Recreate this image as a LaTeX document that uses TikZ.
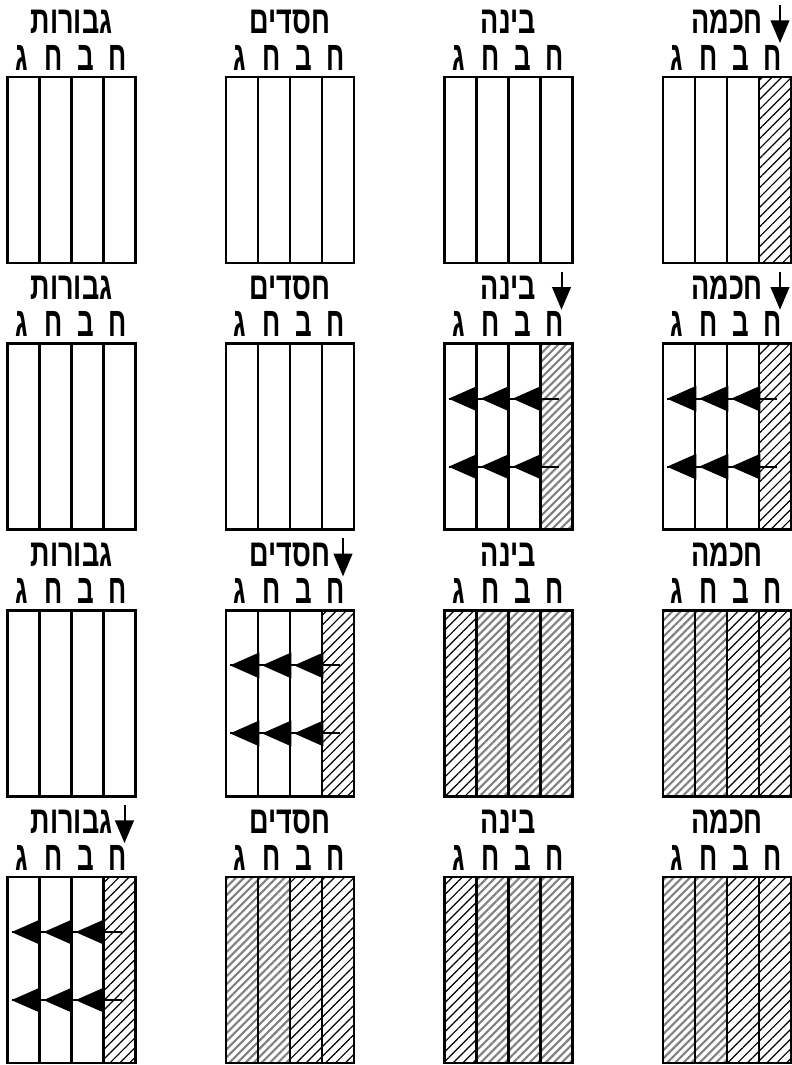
\documentclass[tikz,border=0pt]{standalone}
\usepackage{fontspec}
\usetikzlibrary{arrows.meta,patterns.meta}
\newfontfamily\hebfont[Script=Hebrew]{Liberation Sans Bold}
\TeXXeTstate=1

\begin{document}
\begin{tikzpicture}[x=0.75pt,y=-0.75pt,
    strip/.style={draw,line width=1.9pt,minimum width=24pt,minimum height=139.5pt,inner sep=0pt,outer sep=0pt},
    fill0/.style={},
    fill1/.style={pattern={Lines[angle=45,distance=5.2pt,line width=0.9pt]},pattern color=black},
    fill2/.style={pattern={Lines[angle=45,distance=4.3pt,line width=1.6pt]},pattern color=black!50},
    title/.style={font=\hebfont\fontsize{29}{32}\selectfont,xscale=0.7,inner sep=0pt,anchor=base},
    letter/.style={font=\hebfont\fontsize{31}{34}\selectfont,xscale=0.63,inner sep=0pt,anchor=base},
    downarrow/.style={line width=1.5pt,-{Triangle[length=17pt,width=14pt]}},
    leftarrow/.style={line width=1.5pt,-{Triangle[length=22pt,width=19pt]}}]
  \useasboundingbox (0,0) rectangle (792,1065);
  % row/column/title/fills (0 empty, 1 dark, 2 grey)/arrows (1 title, 2 title and flow)
  \foreach \row/\col/\ttl/\fl/\arw in {
      1/1/גבורות/{0,0,0,0}/0, 1/2/חסדים/{0,0,0,0}/0, 1/3/בינה/{0,0,0,0}/0, 1/4/חכמה/{0,0,0,1}/1,
      2/1/גבורות/{0,0,0,0}/0, 2/2/חסדים/{0,0,0,0}/0, 2/3/בינה/{0,0,0,2}/2, 2/4/חכמה/{0,0,0,1}/2,
      3/1/גבורות/{0,0,0,0}/0, 3/2/חסדים/{0,0,0,1}/2, 3/3/בינה/{1,2,2,2}/0, 3/4/חכמה/{2,2,1,1}/0,
      4/1/גבורות/{0,0,0,1}/2, 4/2/חסדים/{2,2,1,1}/0, 4/3/בינה/{1,2,2,2}/0, 4/4/חכמה/{2,2,1,1}/0}{
    \pgfmathsetmacro\xl{7.5+(\col-1)*218.5}
    \pgfmathsetmacro\yt{77+(\row-1)*266.7}
    % strips
    \foreach \f [count=\k] in \fl {
      \node[strip,fill\f] (s\row\col\k) at (\xl+\k*32-16,\yt+93) {};
    }
    % letters and title
    \foreach \lt [count=\k] in {ג,ח,ב,ח} {
      \node[letter] (l\row\col\k) at (\xl+\k*32-18,\yt-7) {\lt};
    }
    \node[title] (t\row\col) at (\xl+64,\yt-44) {\beginR\ttl\endR};
    \ifnum\arw>0
      \coordinate (a\row\col) at (\xl+117,\yt-72);
      \coordinate (b\row\col) at (\xl+117,\yt-34);
      \draw[downarrow] (a\row\col) -- (b\row\col);
    \fi
    \ifnum\arw>1
      \foreach \dy in {55,123} {
        \draw[line width=1.5pt] (\xl+114,\yt+\dy) -- (\xl+4,\yt+\dy);
        \foreach \k in {1,2,3}
          \draw[leftarrow] (\xl+\k*32,\yt+\dy) -- (\xl+\k*32-28,\yt+\dy);
      }
    \fi
  }
\end{tikzpicture}
\end{document}
